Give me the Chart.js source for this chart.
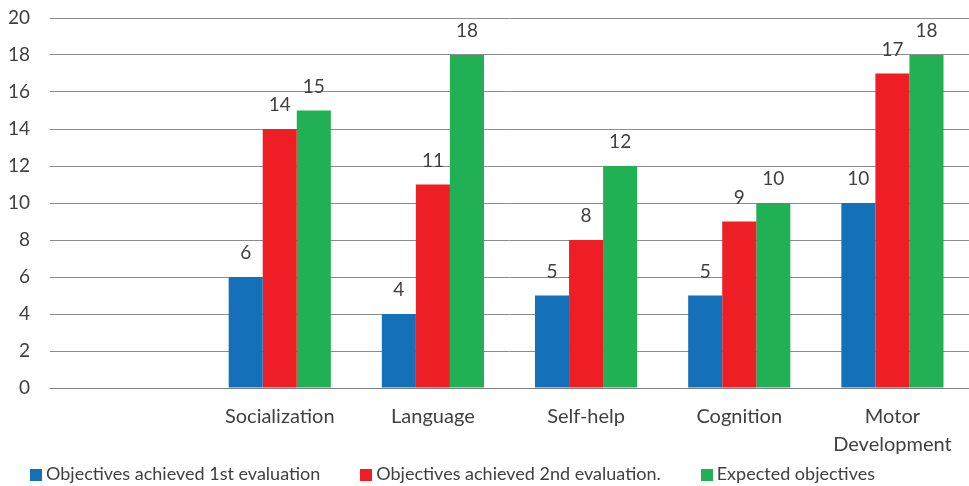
<!DOCTYPE html>
<html>
<head>
<meta charset="utf-8">
<script src="https://cdn.jsdelivr.net/npm/chart.js@4/dist/chart.umd.min.js"></script>
<style>
  html, body { margin: 0; padding: 0; background: #fff; overflow: hidden; }
  #wrap { position: relative; width: 969px; height: 486px; }
  canvas { display: block; }
  #legend { position: absolute; left: 30px; top: 462px; font: 18px Lato, sans-serif; color: #404040; white-space: nowrap; }
  #legend span.item { display: inline-block; margin-right: 40px; }
  #legend span.box { display: inline-block; width: 12px; height: 12px; margin-right: 4px; vertical-align: -1px; }
</style>
</head>
<body>
<div id="wrap">
  <canvas id="chart" width="969" height="486"></canvas>
  <div id="legend"></div>
</div>
<script>
var categories = ['', 'Socialization', 'Language', 'Self-help', 'Cognition', ['Motor', 'Development']];
var seriesNames = ['Objectives achieved 1st evaluation', 'Objectives achieved 2nd evaluation.', 'Expected objectives'];
var firstEval = [null, 6, 4, 5, 5, 10];
var secondEval = [null, 14, 11, 8, 9, 17];
var expected = [null, 15, 18, 12, 10, 18];
var yTicks = [0, 2, 4, 6, 8, 10, 12, 14, 16, 18, 20];
var colors = ['#1570ba', '#ed1f25', '#21b053'];

var textColor = '#404040';

// values written above each bar
var barLabels = {
    id: 'barLabels',
    afterDatasetsDraw: function (chart) {
        var ctx = chart.ctx;
        ctx.save();
        ctx.font = '19px Lato, sans-serif';
        ctx.fillStyle = textColor;
        ctx.textAlign = 'center';
        ctx.textBaseline = 'alphabetic';
        chart.data.datasets.forEach(function (ds, i) {
            chart.getDatasetMeta(i).data.forEach(function (bar, j) {
                var v = ds.data[j];
                if (v == null) return;
                ctx.fillText(String(v), bar.x, bar.y - 18);
            });
        });
        ctx.restore();
    }
};

var allSeries = [firstEval, secondEval, expected];

var chart = new Chart(document.getElementById('chart'), {
    type: 'bar',
    data: {
        labels: categories,
        datasets: allSeries.map(function (d, i) {
            return {
                label: seriesNames[i],
                data: d,
                backgroundColor: colors[i],
                borderWidth: 0,
                barPercentage: 1,
                categoryPercentage: 0.667
            };
        })
    },
    options: {
        responsive: false,
        animation: false,
        layout: { padding: { left: 0, top: 18, right: 0, bottom: 27 } },
        plugins: {
            legend: { display: false },
            tooltip: { enabled: false }
        },
        scales: {
            x: {
                afterFit: function (axis) {
                    axis.height = 71;
                    axis.paddingLeft = 0;
                    axis.paddingRight = 0;
                },
                grid: { display: false, drawTicks: false },
                border: { color: '#808080', width: 1 },
                ticks: {
                    color: textColor,
                    font: { family: 'Lato', size: 20, lineHeight: 1.4 },
                    padding: 15,
                    maxRotation: 0,
                    autoSkip: false
                }
            },
            y: {
                min: 0,
                max: 20,
                afterFit: function (axis) {
                    axis.width = 50;
                    axis.paddingTop = 0;
                    axis.paddingBottom = 0;
                },
                afterBuildTicks: function (axis) {
                    axis.ticks = yTicks.map(function (v) { return { value: v }; });
                },
                grid: { color: '#8c8c8c', lineWidth: 1, drawTicks: false },
                border: { display: false },
                ticks: {
                    color: textColor,
                    font: { family: 'Lato', size: 19 },
                    padding: 20
                }
            }
        }
    },
    plugins: [barLabels]
});

var legend = document.getElementById('legend');
chart.data.datasets.forEach(function (ds) {
    var item = document.createElement('span');
    item.className = 'item';
    var box = document.createElement('span');
    box.className = 'box';
    box.style.background = ds.backgroundColor;
    item.appendChild(box);
    item.appendChild(document.createTextNode(ds.label));
    legend.appendChild(item);
});
</script>
</body>
</html>
